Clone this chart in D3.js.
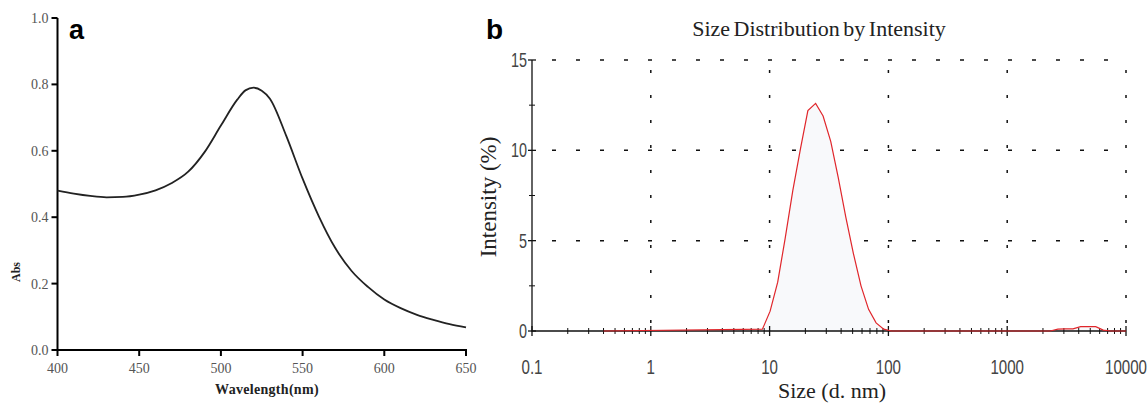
<!DOCTYPE html>
<html>
<head>
<meta charset="utf-8">
<script src="https://cdn.jsdelivr.net/npm/d3@7"></script>
<style>
  body { margin: 0; background: #fff; }
  svg { display: block; }
</style>
</head>
<body>
<div id="chart"></div>
<script>
// panel a: UV-vis absorbance
var wavelengths = [400, 410, 420, 430, 440, 450, 460, 470, 480, 490, 500, 510, 515, 520, 525, 530, 540, 550, 560, 570, 580, 590, 600, 610, 620, 630, 640, 650];
var absorbance = [0.480, 0.471, 0.464, 0.460, 0.461, 0.468, 0.481, 0.503, 0.537, 0.596, 0.676, 0.754, 0.782, 0.790, 0.781, 0.757, 0.645, 0.516, 0.402, 0.307, 0.238, 0.190, 0.152, 0.126, 0.106, 0.091, 0.078, 0.068];
var absTicks = [0.0, 0.2, 0.4, 0.6, 0.8, 1.0];
var wlTicks = [400, 450, 500, 550, 600, 650];

// panel b: DLS size distribution by intensity
var sizes = [0.4, 8.7, 10.1, 11.7, 13.5, 15.7, 18.2, 21.0, 24.4, 28.2, 32.7, 37.8, 43.8, 50.7, 58.8, 68.1, 78.8, 91.3, 106, 2300, 2670, 3090, 3580, 4150, 4800, 5560, 6440, 7460, 10000];
var intensity = [0, 0.1, 1.1, 2.7, 5.1, 7.8, 10.1, 12.2, 12.6, 11.9, 10.5, 8.5, 6.3, 4.3, 2.5, 1.2, 0.45, 0.1, 0, 0, 0.1, 0.12, 0.12, 0.24, 0.25, 0.24, 0.05, 0, 0];
var sizeTicks = [0.1, 1, 10, 100, 1000, 10000];
var sizeTickLabels = ["0.1", "1", "10", "100", "1000", "10000"];
var intTicks = [0, 5, 10, 15];

var svg = d3.select("#chart").append("svg")
  .attr("width", 1148)
  .attr("height", 406);

svg.append("rect").attr("width", 1148).attr("height", 406).attr("fill", "#fff");

var serif = "'Liberation Serif', 'Times New Roman', serif";
var sans = "'Liberation Sans', Arial, sans-serif";

// ---------- panel a ----------
var xA = d3.scaleLinear().domain([400, 650]).range([57.5, 466]);
var yA = d3.scaleLinear().domain([0, 1]).range([350, 18]);

var gA = svg.append("g").attr("class", "panel-a");

// axis frame as two rects so they cannot be missed
gA.append("rect")
  .attr("x", xA(400) - 1)
  .attr("y", yA(1))
  .attr("width", 2)
  .attr("height", yA(0) - yA(1) + 1)
  .attr("fill", "#000");
gA.append("rect")
  .attr("x", xA(400) - 1)
  .attr("y", yA(0) - 1)
  .attr("width", xA(650) - xA(400) + 2)
  .attr("height", 2)
  .attr("fill", "#000");

// ticks
gA.selectAll(".xt")
  .data(wlTicks)
  .enter().append("rect")
  .attr("class", "xt")
  .attr("x", function(d) { return xA(d) - 1; })
  .attr("y", yA(0))
  .attr("width", 2)
  .attr("height", 6)
  .attr("fill", "#000");
gA.selectAll(".yt")
  .data(absTicks)
  .enter().append("rect")
  .attr("class", "yt")
  .attr("x", xA(400) - 6)
  .attr("y", function(d) { return yA(d) - 1; })
  .attr("width", 6)
  .attr("height", 2)
  .attr("fill", "#000");

gA.selectAll(".xl")
  .data(wlTicks)
  .enter().append("text")
  .attr("class", "xl")
  .attr("x", function(d) { return xA(d); })
  .attr("y", 373)
  .attr("text-anchor", "middle")
  .style("font-family", serif)
  .style("font-size", "14px")
  .attr("fill", "#555")
  .text(function(d) { return d; });
gA.selectAll(".yl")
  .data(absTicks)
  .enter().append("text")
  .attr("class", "yl")
  .attr("x", xA(400) - 9)
  .attr("y", function(d) { return yA(d) + 5; })
  .attr("text-anchor", "end")
  .style("font-family", serif)
  .style("font-size", "14px")
  .attr("fill", "#555")
  .text(function(d) { return d3.format(".1f")(d); });

var lineA = d3.line()
  .x(function(d, i) { return xA(wavelengths[i]); })
  .y(function(d) { return yA(d); })
  .curve(d3.curveMonotoneX);

gA.append("path")
  .datum(absorbance)
  .attr("d", lineA)
  .attr("fill", "none")
  .attr("stroke", "#222")
  .attr("stroke-width", 1.8);

gA.append("text")
  .attr("transform", "translate(20,272) rotate(-90)")
  .attr("text-anchor", "middle")
  .style("font-family", serif)
  .style("font-weight", "bold")
  .style("font-size", "12px")
  .attr("fill", "#222")
  .text("Abs");

gA.append("text")
  .attr("x", 267)
  .attr("y", 394)
  .attr("text-anchor", "middle")
  .style("font-family", serif)
  .style("font-weight", "bold")
  .style("font-size", "14px")
  .style("letter-spacing", "0.3px")
  .attr("fill", "#222")
  .text("Wavelength(nm)");

gA.append("text")
  .attr("x", 69)
  .attr("y", 39)
  .style("font-family", sans)
  .style("font-weight", "bold")
  .style("font-size", "27px")
  .attr("fill", "#000")
  .text("a");

// ---------- panel b ----------
var xB = d3.scaleLog().domain([0.1, 10000]).range([532, 1126]);
var yB = d3.scaleLinear().domain([0, 15]).range([331, 60]);

var gB = svg.append("g").attr("class", "panel-b");

// dotted grid
gB.selectAll(".vgrid")
  .data(sizeTicks.slice(1))
  .enter().append("line")
  .attr("class", "vgrid")
  .attr("x1", function(d) { return xB(d); })
  .attr("x2", function(d) { return xB(d); })
  .attr("y1", yB(0))
  .attr("y2", yB(15))
  .attr("stroke", "#111")
  .attr("stroke-width", 1.5)
  .attr("stroke-dasharray", "3,22")
  .attr("stroke-dashoffset", -8);

gB.selectAll(".hgrid")
  .data(intTicks.slice(1))
  .enter().append("line")
  .attr("class", "hgrid")
  .attr("x1", xB(0.1))
  .attr("x2", xB(10000))
  .attr("y1", function(d) { return yB(d); })
  .attr("y2", function(d) { return yB(d); })
  .attr("stroke", "#111")
  .attr("stroke-width", 1.5)
  .attr("stroke-dasharray", "4,20")
  .attr("stroke-dashoffset", -20);

// distribution fill (very faint)
var areaB = d3.area()
  .x(function(d, i) { return xB(sizes[i]); })
  .y0(yB(0))
  .y1(function(d) { return yB(d); });

gB.append("path")
  .datum(intensity)
  .attr("d", areaB)
  .attr("fill", "#f8f9fb");

// minor ticks
var minorX = [];
for (var dec = 0.1; dec < 10000; dec *= 10) {
  for (var m = 2; m <= 9; m++) minorX.push(dec * m);
}
gB.selectAll(".minorx")
  .data(minorX)
  .enter().append("line")
  .attr("class", "minorx")
  .attr("x1", function(d) { return xB(d); })
  .attr("x2", function(d) { return xB(d); })
  .attr("y1", yB(0) - 3)
  .attr("y2", yB(0) + 3)
  .attr("stroke", "#111")
  .attr("stroke-width", 1);

gB.selectAll(".majorx")
  .data(sizeTicks)
  .enter().append("line")
  .attr("class", "majorx")
  .attr("x1", function(d) { return xB(d); })
  .attr("x2", function(d) { return xB(d); })
  .attr("y1", yB(0) - 5)
  .attr("y2", yB(0) + 5)
  .attr("stroke", "#111")
  .attr("stroke-width", 1.3);

gB.selectAll(".minory")
  .data([2.5, 7.5, 12.5])
  .enter().append("line")
  .attr("class", "minory")
  .attr("x1", xB(0.1) - 3)
  .attr("x2", xB(0.1) + 3)
  .attr("y1", function(d) { return yB(d); })
  .attr("y2", function(d) { return yB(d); })
  .attr("stroke", "#111")
  .attr("stroke-width", 1);

gB.selectAll(".majory")
  .data(intTicks)
  .enter().append("line")
  .attr("class", "majory")
  .attr("x1", xB(0.1) - 4)
  .attr("x2", xB(0.1) + 4)
  .attr("y1", function(d) { return yB(d); })
  .attr("y2", function(d) { return yB(d); })
  .attr("stroke", "#111")
  .attr("stroke-width", 1.3);

// axis lines
gB.append("path")
  .attr("d", "M" + xB(0.1) + "," + yB(15) + "V" + yB(0) + "H" + xB(10000))
  .attr("fill", "none")
  .attr("stroke", "#111")
  .attr("stroke-width", 1.3);

// tick labels, squeezed horizontally to look like a narrow face
gB.selectAll(".xlab")
  .data(sizeTicks)
  .enter().append("text")
  .attr("class", "xlab")
  .attr("transform", function(d) { return "translate(" + xB(d) + ",374) scale(0.72,1)"; })
  .attr("text-anchor", "middle")
  .style("font-family", sans)
  .style("font-size", "21px")
  .attr("fill", "#444")
  .text(function(d, i) { return sizeTickLabels[i]; });

gB.selectAll(".ylab")
  .data(intTicks)
  .enter().append("text")
  .attr("class", "ylab")
  .attr("transform", function(d) { return "translate(" + (xB(0.1) - 5) + "," + (yB(d) + 7) + ") scale(0.72,1)"; })
  .attr("text-anchor", "end")
  .style("font-family", sans)
  .style("font-size", "20px")
  .attr("fill", "#444")
  .text(function(d) { return d; });

// distribution curve
var lineB = d3.line()
  .x(function(d, i) { return xB(sizes[i]); })
  .y(function(d) { return yB(d); });

gB.append("path")
  .datum(intensity)
  .attr("d", lineB)
  .attr("fill", "none")
  .attr("stroke", "#e0262b")
  .attr("stroke-width", 1.2);

// titles
gB.append("text")
  .attr("x", 819)
  .attr("y", 36)
  .attr("text-anchor", "middle")
  .style("font-family", serif)
  .style("font-size", "22px")
  .style("word-spacing", "-2px")
  .attr("fill", "#222")
  .text("Size Distribution by Intensity");

gB.append("text")
  .attr("transform", "translate(496,197) rotate(-90)")
  .attr("text-anchor", "middle")
  .style("font-family", serif)
  .style("font-size", "23px")
  .attr("fill", "#222")
  .text("Intensity (%)");

gB.append("text")
  .attr("x", 832)
  .attr("y", 398)
  .attr("text-anchor", "middle")
  .style("font-family", serif)
  .style("font-size", "22px")
  .attr("fill", "#222")
  .text("Size (d. nm)");

gB.append("text")
  .attr("x", 486)
  .attr("y", 39)
  .style("font-family", sans)
  .style("font-weight", "bold")
  .style("font-size", "28px")
  .attr("fill", "#000")
  .text("b");
</script>
</body>
</html>
